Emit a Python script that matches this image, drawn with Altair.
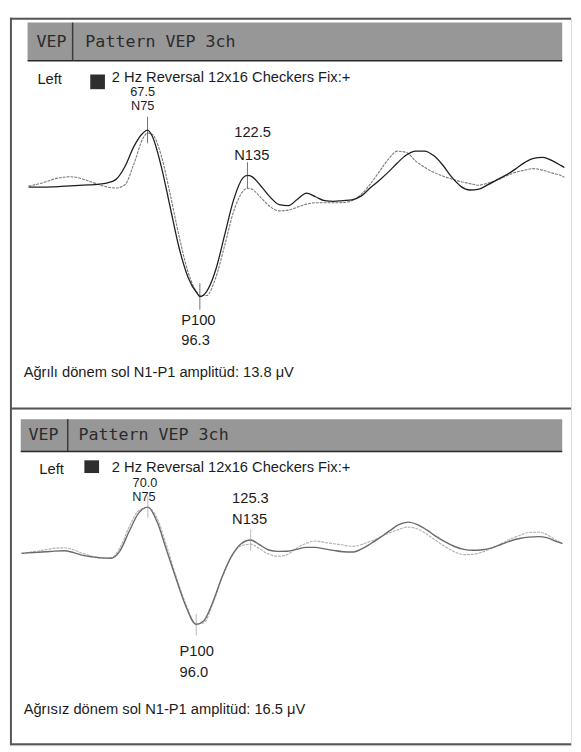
import altair as alt
import pandas as pd

# ---------------- data ----------------
# latency in ms, amplitude in microvolts (negative = up, VEP convention)
top_latency = [2, 5, 10, 15, 20, 25, 30, 35, 40, 45, 50, 55, 60, 65, 67.5, 70, 75, 80, 85, 90, 95, 96.3,
               100, 105, 110, 115, 120, 122.5, 125, 130, 135, 140, 145, 150, 155, 160, 165, 170, 175, 180,
               185, 190, 195, 200, 205, 210, 215, 220, 225, 230, 235, 240, 245, 250, 255, 260, 265, 270,
               275, 280, 285, 290, 295, 297]
top_dark = [0.08, 0.08, 0.08, 0.06, 0.02, -0.02, -0.06, -0.10, -0.15, -0.25, -0.54, -1.61, -3.30, -4.41,
            -4.65, -4.17, -1.66, 1.77, 5.19, 7.63, 8.93, 9.15, 8.74, 6.95, 4.02, 1.08, -0.69, -0.89, -0.79,
            0.01, 0.91, 1.53, 1.61, 1.09, 0.58, 0.88, 1.21, 1.27, 1.20, 1.14, 0.83, 0.16, -0.47, -1.16,
            -1.92, -2.58, -2.91, -2.91, -2.53, -1.75, -0.74, 0.02, 0.32, 0.24, -0.13, -0.54, -0.93, -1.41,
            -1.95, -2.31, -2.39, -2.13, -1.72, -1.54]
top_light = [0.00, -0.10, -0.29, -0.54, -0.72, -0.78, -0.67, -0.43, -0.16, 0.06, 0.16, -0.11, -1.85, -3.96,
             -4.40, -4.31, -2.55, 0.69, 4.25, 7.21, 8.86, 9.06, 9.07, 7.61, 4.90, 2.05, 0.43, 0.17, 0.26,
             0.97, 1.70, 2.05, 1.99, 1.74, 1.49, 1.38, 1.38, 1.38, 1.36, 1.21, 0.69, -0.15, -1.18, -2.21,
             -2.90, -2.79, -2.10, -1.56, -1.15, -0.84, -0.59, -0.37, -0.21, -0.08, -0.26, -0.50, -0.85,
             -1.14, -1.32, -1.45, -1.32, -1.10, -0.88, -0.73]

bottom_latency = [2, 5, 10, 15, 20, 25, 30, 35, 40, 45, 50, 55, 60, 65, 70, 75, 80, 85, 90, 96, 100, 105,
                  110, 115, 120, 125.3, 130, 135, 140, 145, 150, 155, 160, 165, 170, 175, 180, 185, 190,
                  195, 200, 205, 210, 215, 220, 225, 230, 235, 240, 245, 250, 255, 260, 265, 270, 275, 280,
                  285, 290, 293]
bottom_dark = [0.00, -0.06, -0.14, -0.22, -0.32, -0.37, -0.10, 0.29, 0.48, 0.63, 0.69, -0.36, -3.13, -5.65,
               -6.50, -4.39, -0.49, 3.43, 7.14, 10.00, 9.52, 6.80, 3.26, 0.40, -1.32, -1.88, -1.22, -0.47,
               -0.28, -0.30, -0.56, -0.83, -0.83, -0.63, -0.41, -0.23, -0.18, -0.62, -1.38, -2.24, -3.15,
               -4.02, -4.39, -4.04, -3.29, -2.38, -1.60, -0.96, -0.56, -0.43, -0.51, -0.78, -1.24, -1.73,
               -2.08, -2.28, -2.34, -2.17, -1.65, -1.38]
bottom_light = [0.00, -0.10, -0.28, -0.50, -0.73, -0.78, -0.50, 0.01, 0.41, 0.67, 0.62, -0.80, -3.76, -5.97,
                -6.46, -4.88, -1.10, 3.09, 6.83, 9.87, 9.77, 7.04, 3.38, 0.47, -1.03, -1.29, -0.67, 0.11,
                0.40, 0.18, -0.73, -1.39, -1.73, -1.53, -1.35, -1.17, -0.98, -1.24, -1.72, -2.26, -2.86,
                -3.37, -3.69, -3.42, -2.70, -1.79, -0.92, -0.21, 0.18, 0.14, -0.18, -0.69, -1.33, -2.01,
                -2.50, -2.93, -2.96, -2.61, -1.80, -1.38]

peak_names = ["N75", "P100", "N135"]
top_peak_latency = [67.5, 96.3, 122.5]
top_peak_amp = [-4.65, 9.15, -0.89]
bottom_peak_latency = [70.0, 96.0, 125.3]
bottom_peak_amp = [-6.5, 10.0, -1.88]

header_left = "VEP"
header_right = "Pattern VEP 3ch"
eye_label = "Left"
stim_label = "2 Hz Reversal 12x16 Checkers Fix:+"
top_caption = "Ağrılı dönem sol N1-P1 amplitüd: 13.8 μV"
bottom_caption = "Ağrısız dönem sol N1-P1 amplitüd: 16.5 μV"

# ---------------- helpers ----------------
W = 573
ONE = pd.DataFrame({"k": [0]})
SANS = "Liberation Sans"
MONO = "DejaVu Sans Mono"


def rule(x, x2, y, y2, color="#555555", width=2):
    return alt.Chart(ONE).mark_rule(color=color, strokeWidth=width).encode(
        x=alt.value(x), x2=alt.value(x2), y=alt.value(y), y2=alt.value(y2))


def rect(x, x2, y, y2, color):
    return alt.Chart(ONE).mark_rect(color=color).encode(
        x=alt.value(x), x2=alt.value(x2), y=alt.value(y), y2=alt.value(y2))


def text(t, x, y, size, font=SANS, color="#1c1c1c"):
    return alt.Chart(pd.DataFrame({"t": [t]})).mark_text(
        align="left", baseline="middle", font=font, fontSize=size, color=color).encode(
        x=alt.value(x), y=alt.value(y), text="t:N")


def panel(height, lat, dark, light, p_lat, p_amp, xrange, yrange, styles, deco):
    xs = alt.Scale(domain=[0, 300], range=xrange)
    ys = alt.Scale(domain=[-10, 10], range=yrange)
    X = alt.X("latency:Q", scale=xs, axis=None)
    Y = alt.Y("amp:Q", scale=ys, axis=None)
    df_d = pd.DataFrame({"latency": lat, "amp": dark})
    df_l = pd.DataFrame({"latency": lat, "amp": light})
    peaks = pd.DataFrame({"name": peak_names, "latency": p_lat, "amp": p_amp})

    light_line = alt.Chart(df_l).mark_line(
        interpolate="monotone", color=styles["light_color"], strokeWidth=styles["light_w"],
        strokeDash=styles["light_dash"]).encode(x=X, y=Y)
    dark_line = alt.Chart(df_d).mark_line(
        interpolate="monotone", color=styles["dark_color"], strokeWidth=styles["dark_w"]).encode(x=X, y=Y)
    ticks = alt.Chart(peaks).mark_tick(
        orient="vertical", size=styles["tick_size"], thickness=1, color=styles["tick_color"]).encode(x=X, y=Y)

    labels = []
    for name, spec in styles["labels"].items():
        for field, (dx, dy, align, size) in spec.items():
            if field == "value":
                enc_text = alt.Text("latency:Q", format=".1f")
            else:
                enc_text = alt.Text("name:N")
            labels.append(
                alt.Chart(peaks).transform_filter(alt.datum.name == name).mark_text(
                    align=align, baseline="middle", dx=dx, dy=dy, font=SANS, fontSize=size,
                    color="#1c1c1c").encode(x=X, y=Y, text=enc_text))

    return alt.layer(*deco, light_line, dark_line, ticks, *labels).properties(width=W, height=height)


top_styles = {
    "light_color": "#7a7a7a", "light_w": 1.1, "light_dash": [3, 1],
    "dark_color": "#1e1e1e", "dark_w": 1.3,
    "tick_size": 27, "tick_color": "#333333",
    "labels": {
        "N75": {"value": (-5, -39, "center", 13), "name": (-5, -24, "center", 13)},
        "P100": {"name": (-19, 24, "left", 15), "value": (-19, 45, "left", 15)},
        "N135": {"value": (-13.5, -44, "left", 15), "name": (-13.5, -21, "left", 15)},
    },
}
bottom_styles = {
    "light_color": "#b4b4b4", "light_w": 1.2, "light_dash": [3, 1],
    "dark_color": "#6a6a6a", "dark_w": 1.4,
    "tick_size": 22, "tick_color": "#9a9a9a",
    "labels": {
        "N75": {"value": (-3, -25, "center", 13), "name": (-4, -10, "center", 13)},
        "P100": {"name": (-17, 27, "left", 15), "value": (-17, 49, "left", 15)},
        "N135": {"value": (-19, -43, "left", 15), "name": (-19, -21, "left", 15)},
    },
}

BAR = "#979797"
top_deco = [
    rule(0, W, 1, 1), rule(1, 1, 0, 399),
    rect(18, 564, 5, 44, BAR), rule(18, 564, 44, 44, "#2a2a2a", 1.5),
    rule(64, 64, 5, 44, "#3a3a3a", 1.5),
    text(header_left, 27, 25, 17, MONO, "#2b2b2b"),
    text(header_right, 77, 25, 17, MONO, "#2b2b2b"),
    text(eye_label, 28, 63, 15),
    rect(82, 97, 58, 73, "#2e2e2e"),
    text(stim_label, 104, 61, 15),
    text(top_caption, 14, 362, 15),
]
bottom_deco = [
    rule(0, W, 0, 0), rule(1, 1, 0, 343), rule(0, W, 343, 343),
    rect(11, 564, 11, 44, BAR), rule(11, 564, 44, 44, "#2a2a2a", 1.5),
    rule(59, 59, 11, 44, "#3a3a3a", 1.5),
    text(header_left, 19, 27, 17, MONO, "#2b2b2b"),
    text(header_right, 70, 27, 17, MONO, "#2b2b2b"),
    text(eye_label, 30, 62, 15),
    rect(76, 91, 53, 66, "#2e2e2e"),
    text(stim_label, 104, 60, 15),
    text(bottom_caption, 14, 307, 15),
]

top = panel(399, top_latency, top_dark, top_light, top_peak_latency, top_peak_amp,
            [15.3, 571.8], [48.8, 295.2], top_styles, top_deco)
bottom = panel(344, bottom_latency, bottom_dark, bottom_light, bottom_peak_latency, bottom_peak_amp,
               [8.0, 577.4], [75.3, 220.7], bottom_styles, bottom_deco)

chart = alt.vconcat(top, bottom, spacing=0, bounds="flush").properties(
    padding={"left": 0, "top": 0, "right": 0, "bottom": 0}
).configure_view(stroke=None).configure(background="white")

chart.save("out.html", embed_options={"renderer": "svg", "actions": False})
